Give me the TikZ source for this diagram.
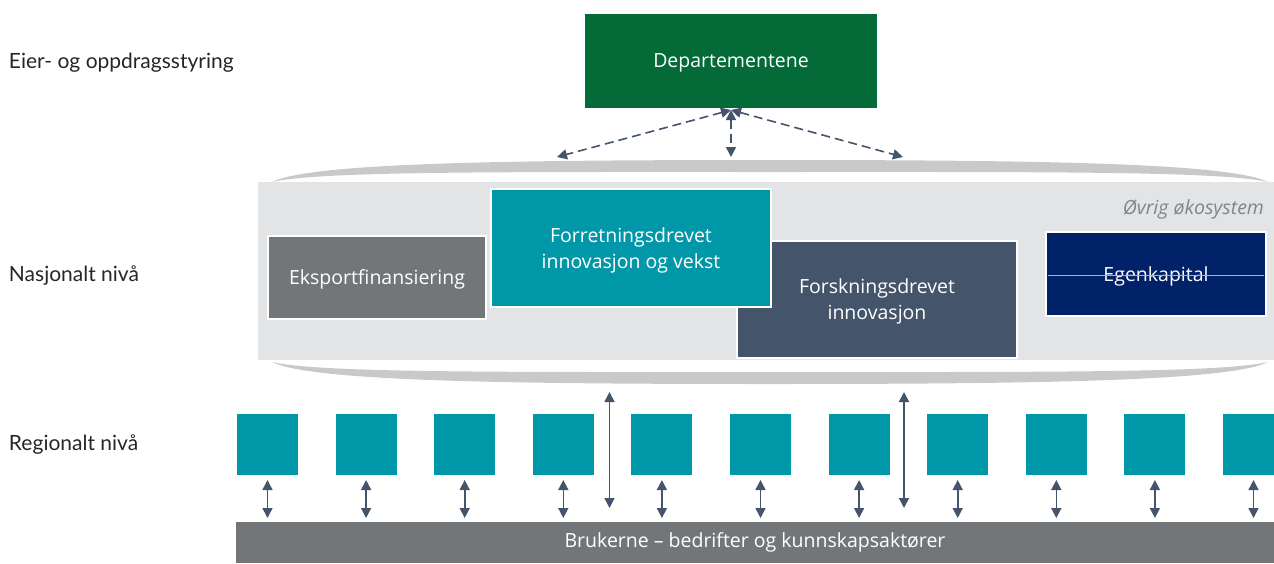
\documentclass[tikz,border=0pt]{standalone}
\usepackage{fontspec}
\setmainfont{Open Sans}
\newfontfamily\labelfont{Lato}
\usetikzlibrary{arrows.meta}
\definecolor{depgreen}{HTML}{046A38}
\definecolor{teal}{HTML}{0097A9}
\definecolor{boxgray}{HTML}{737679}
\definecolor{slate}{HTML}{44546A}
\definecolor{navy}{HTML}{012169}
\definecolor{bandgray}{HTML}{E3E4E6}
\definecolor{lensgray}{HTML}{C8C9CB}
\definecolor{txtdark}{HTML}{262626}
\definecolor{ovrig}{HTML}{7F8590}
\tikzset{
  every node/.style={inner sep=0pt, outer sep=0pt},
  lvl/.style={anchor=west, text=txtdark, text depth=0pt, font=\labelfont\fontsize{21}{24}\selectfont},
  mainbox/.style={draw=white, line width=2pt, text=white, align=center, text depth=0pt,
    font=\fontsize{19.5}{26}\selectfont},
  regbox/.style={fill=teal, minimum width=61pt, minimum height=61pt, anchor=north west},
  arr/.style={draw=slate, line width=1.6pt, {Triangle[length=10pt,width=10pt]}-{Triangle[length=10pt,width=10pt]}},
  darr/.style={arr, dash pattern=on 9pt off 5pt}
}
\begin{document}
\begin{tikzpicture}[x=1pt,y=-1pt]
\useasboundingbox (0,0) rectangle (1274,563);
\clip (0,0) rectangle (1274,563);

% labels
\node[lvl] (l1) at (9,61) {Eier- og oppdragsstyring};
\node[lvl] (l2) at (9,274) {Nasjonalt nivå};
\node[lvl] (l3) at (9,443) {Regionalt nivå};

% departementene
\node[mainbox, fill=depgreen, draw=none, minimum width=292pt, minimum height=94pt, anchor=north west] (dep) at (585,14) {Departementene};

% band
\fill[bandgray] (258,182) rectangle (1274,360);
% top lens
\fill[lensgray] (272,182) .. controls (310,163) and (500,160) .. (770,160)
  .. controls (1040,160) and (1230,163) .. (1268,182)
  .. controls (1220,171) and (1040,172) .. (770,172)
  .. controls (500,172) and (320,171) .. (272,182) -- cycle;
% bottom lens
\fill[lensgray] (272,362) .. controls (320,373) and (500,372) .. (770,372)
  .. controls (1040,372) and (1220,373) .. (1268,362)
  .. controls (1230,381) and (1040,384) .. (770,384)
  .. controls (500,384) and (310,381) .. (272,362) -- cycle;

\node[anchor=base east, text=ovrig, font=\itshape\fontsize{19.5}{22}\selectfont] (ov) at (1264,214) {Øvrig økosystem};

% national boxes
\node[mainbox, fill=boxgray, minimum width=218pt, minimum height=83pt, anchor=north west] (eks) at (268,236) {Eksportfinansiering};
\node[mainbox, fill=slate, minimum width=280pt, minimum height=117pt, anchor=north west] (fors) at (737,241) {Forskningsdrevet\\innovasjon};
\node[mainbox, fill=teal, minimum width=280pt, minimum height=118pt, anchor=north west] (forr) at (491,189) {Forretningsdrevet\\innovasjon og vekst};
\node[mainbox, fill=navy, minimum width=220pt, minimum height=84pt, anchor=north west] (egen) at (1046,232) {Egenkapital};
\draw[draw=white!65!navy, line width=0.8pt] ([xshift=2pt,yshift=-1pt]egen.west) -- ([xshift=-2pt,yshift=-1pt]egen.east);

% dashed arrows
\coordinate (dtop) at (731,110);
\coordinate (dl) at (557,157);
\coordinate (dm) at (731,157);
\coordinate (dr) at (903,157);
\draw[darr] (dtop) -- (dl);
\draw[darr] (dtop) -- (dm);
\draw[darr] (dtop) -- (dr);

% regional boxes
\foreach \i in {0,...,10} {
  \node[regbox] (r\i) at ({237+98.6*\i},414) {};
  \coordinate (a\i) at ([yshift=-5pt]r\i.south);
  \coordinate (b\i) at ([yshift=-43pt]r\i.south);
  \draw[arr] (a\i) -- (b\i);
}

% bottom bar
\node[fill=boxgray, text=white, minimum width=1038pt, minimum height=41pt, anchor=north west,
  text height=1.0em, text depth=0pt,
  font=\fontsize{19.5}{22}\selectfont] (bar) at (236,522) {Brukerne – bedrifter og kunnskapsaktører};

% long arrows
\coordinate (la1) at (609.5,392);
\coordinate (lb1) at (609.5,508);
\coordinate (la2) at (904,392);
\coordinate (lb2) at (904,508);
\draw[arr] (la1) -- (lb1);
\draw[arr] (la2) -- (lb2);
\end{tikzpicture}
\end{document}
